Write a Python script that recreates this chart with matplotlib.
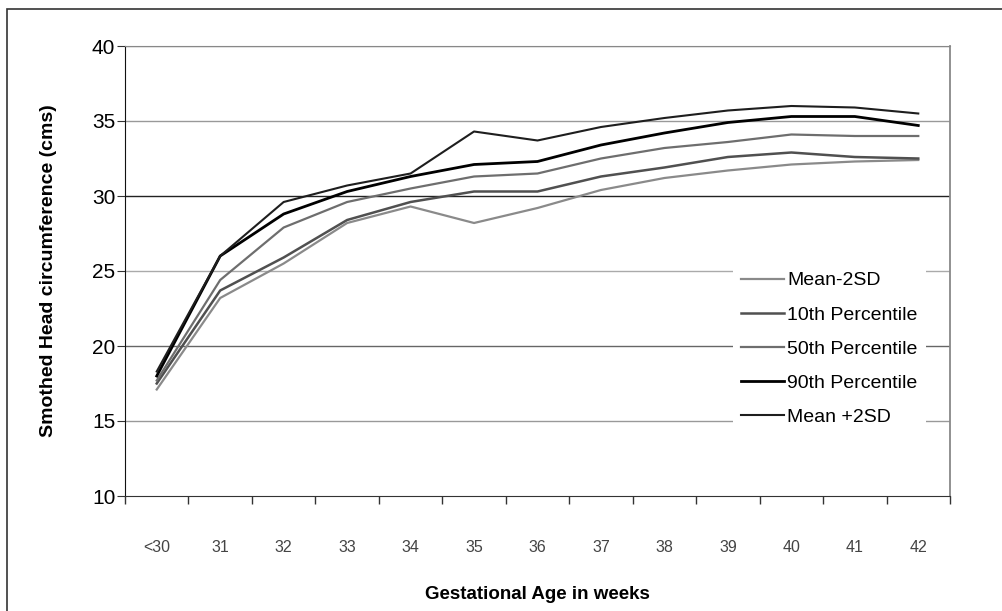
import numpy as np
import matplotlib
matplotlib.use("Agg")
import matplotlib.pyplot as plt
from matplotlib.patches import Rectangle

# data
weeks = ['<30', '31', '32', '33', '34', '35', '36', '37', '38', '39', '40', '41', '42']
mean_m2sd = [17.1, 23.2, 25.5, 28.2, 29.3, 28.2, 29.2, 30.4, 31.2, 31.7, 32.1, 32.3, 32.4]
p10 = [17.5, 23.7, 25.9, 28.4, 29.6, 30.3, 30.3, 31.3, 31.9, 32.6, 32.9, 32.6, 32.5]
p50 = [17.7, 24.4, 27.9, 29.6, 30.5, 31.3, 31.5, 32.5, 33.2, 33.6, 34.1, 34.0, 34.0]
p90 = [18.0, 26.0, 28.8, 30.3, 31.3, 32.1, 32.3, 33.4, 34.2, 34.9, 35.3, 35.3, 34.7]
mean_p2sd = [18.3, 26.0, 29.6, 30.7, 31.5, 34.3, 33.7, 34.6, 35.2, 35.7, 36.0, 35.9, 35.5]

series = ['Mean-2SD', '10th Percentile', '50th Percentile', '90th Percentile', 'Mean +2SD']
colors = ['#8a8a8a', '#505050', '#6e6e6e', '#000000', '#1e1e1e']
widths = [1.6, 1.8, 1.6, 2.0, 1.5]

yticks = [10, 15, 20, 25, 30, 35, 40]
grid_colors = ['#444444', '#999999', '#666666', '#aaaaaa', '#222222', '#999999', '#888888']

plt.rcParams['font.family'] = ['Liberation Sans', 'DejaVu Sans']

fig = plt.figure(figsize=(10.02, 6.11), dpi=100, facecolor='white')
W, H = 1002, 611
ax = fig.add_axes([125 / W, 1 - 496 / H, 825 / W, 450 / H])

# outer frame of the figure (runs off the right and bottom edges)
fig.patches.append(Rectangle((7 / W, -0.2), 1.2, 1.2 - 9 / H, transform=fig.transFigure,
                             fill=False, edgecolor='#333333', lw=1.2, clip_on=False))

x = np.arange(len(weeks))
for yv, gc in zip(yticks[1:], grid_colors[1:]):
    ax.axhline(yv, color=gc, lw=1.0, zorder=1)

data = [mean_m2sd, p10, p50, p90, mean_p2sd]
for vals, name, c, w in zip(data, series, colors, widths):
    ax.plot(x, vals, color=c, lw=w, label=name, zorder=3)

ax.set_xlim(-0.5, len(weeks) - 0.5)
ax.set_ylim(10, 40)
ax.set_yticks(yticks)
ax.tick_params(axis='y', labelsize=15, length=6, pad=1, color='#333333')

ax.set_xticks(x)
ax.set_xticklabels(weeks, fontsize=11.5, color='#444444')
ax.set_xticks(np.arange(len(weeks) + 1) - 0.5, minor=True)
ax.tick_params(axis='x', which='major', length=0, pad=32)
ax.tick_params(axis='x', which='minor', length=6, color='#333333', width=1)

ax.spines['top'].set_color('#888888')
ax.spines['right'].set_color('#888888')
ax.spines['right'].set_linewidth(1.3)
ax.spines['left'].set_color('#111111')
ax.spines['bottom'].set_color('#333333')

ax.set_ylabel('Smothed Head circumference (cms)', fontsize=14, fontweight='bold', labelpad=25)
ax.set_xlabel('Gestational Age in weeks', fontsize=13.5, fontweight='bold', labelpad=22)

leg = ax.legend(loc='upper left', bbox_to_anchor=((733 - 125) / 825, (496 - 264) / 450),
                fontsize=14, frameon=True, framealpha=1, edgecolor='none',
                handlelength=2.2, handletextpad=0.2, labelspacing=0.85,
                borderpad=0.4, borderaxespad=0, fancybox=False)
leg.set_zorder(5)

fig.savefig('out.png', dpi=100)
